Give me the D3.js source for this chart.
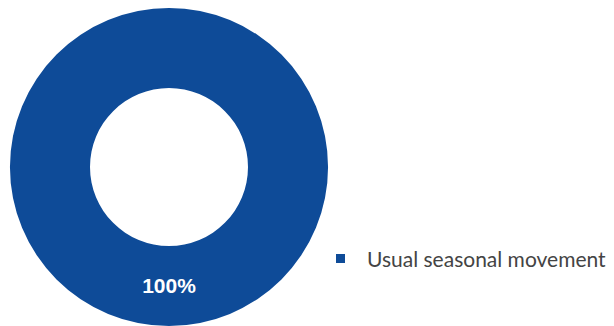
<!DOCTYPE html>
<html>
<head>
<meta charset="utf-8">
<script src="https://cdn.jsdelivr.net/npm/d3@7"></script>
<style>
  html, body { margin: 0; padding: 0; background: #fff; }
  svg { display: block; }
</style>
</head>
<body>
<svg id="chart" width="614" height="326"></svg>
<script>
// Share of movements by type
const categories = ["Usual seasonal movement"];
const shares = [100];
const colors = ["#0e4b98"];

const svg = d3.select("#chart");
const cx = 169, cy = 167, outerR = 159, innerR = 79;

const pie = d3.pie().sort(null).value(d => d)(shares);
const arc = d3.arc().innerRadius(innerR).outerRadius(outerR);
const color = d3.scaleOrdinal().domain(categories).range(colors);

const g = svg.append("g").attr("transform", `translate(${cx},${cy})`);
g.selectAll("path")
  .data(pie)
  .join("path")
  .attr("d", arc)
  .attr("fill", (d, i) => color(categories[i]));

g.selectAll("text")
  .data(pie)
  .join("text")
  .attr("transform", d => `translate(${arc.centroid(d)})`)
  .attr("text-anchor", "middle")
  .attr("dy", "0.35em")
  .attr("fill", "#fff")
  .style("font-family", "'Liberation Sans', Arial, sans-serif")
  .style("font-weight", "bold")
  .style("font-size", "21px")
  .text(d => d.data + "%");

// Legend
const legend = svg.append("g").attr("transform", "translate(336,254)");
const items = legend.selectAll("g")
  .data(categories)
  .join("g")
  .attr("transform", (d, i) => `translate(0,${i * 26})`);
items.append("rect")
  .attr("width", 9).attr("height", 9)
  .attr("fill", d => color(d));
items.append("text")
  .attr("x", 31).attr("y", 12.5)
  .attr("fill", "#444")
  .style("font-family", "Lato, sans-serif")
  .style("font-size", "21px")
  .text(d => d);
</script>
</body>
</html>
